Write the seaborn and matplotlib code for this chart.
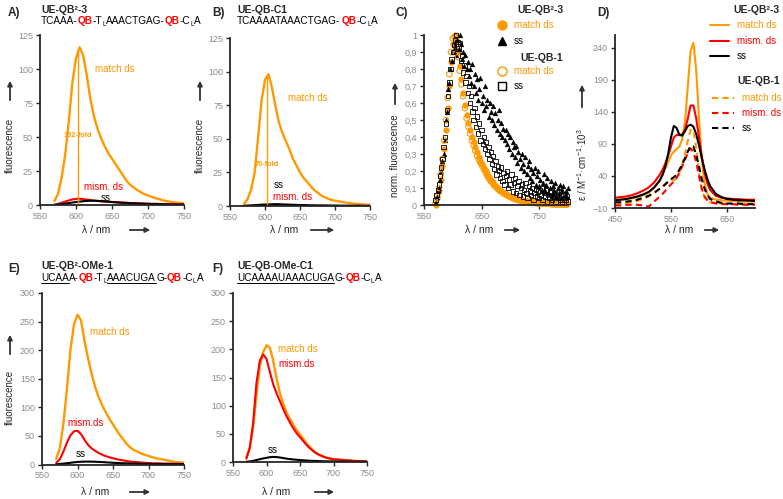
import numpy as np
import seaborn as sns
import matplotlib.pyplot as plt
from matplotlib import font_manager
from matplotlib.ft2font import FT2Font
from matplotlib.lines import Line2D
from matplotlib.patches import FancyArrowPatch

W, H = 783, 499
ORANGE = '#FF9900'
RED = '#FF0000'
GREY = '#8C8C8C'

# ---- data: emission spectra (A, B, E, F) ----
wl = np.arange(570, 751, 5)

a_match = [3, 8, 20, 37, 62, 90, 108, 116, 110, 95, 78, 65, 56, 49, 43, 38, 34, 30, 26, 22,
           18, 15, 13, 11, 9.5, 8, 7, 6, 5, 4.5, 3.5, 3, 2.5, 2, 1.8, 1.5, 1.2]
a_mism = [0.2, 0.8, 1.6, 2.5, 3.4, 4.1, 4.5, 4.6, 4.3, 4.0, 3.6, 3.3, 3.0, 2.8, 2.6, 2.4, 2.2, 2.0,
          1.9, 1.8, 1.7, 1.5, 1.4, 1.3, 1.2, 1.1, 1.0, 0.9, 0.9, 0.8, 0.7, 0.7, 0.6, 0.6, 0.5, 0.5, 0.5]
a_ss = [0.1, 0.3, 0.6, 1.0, 1.4, 1.8, 2.2, 2.5, 2.8, 3.0, 3.1, 3.1, 3.0, 2.8, 2.6, 2.4, 2.2, 2.0,
        1.8, 1.6, 1.5, 1.3, 1.2, 1.1, 1.0, 0.9, 0.8, 0.7, 0.7, 0.6, 0.5, 0.5, 0.4, 0.4, 0.4, 0.3, 0.3]

b_match = [1.5, 5, 12, 24, 50, 78, 94, 98, 88, 74, 62, 54, 48, 42, 35, 30, 25, 21, 18, 15,
           12, 10, 8, 6.5, 5.5, 4.5, 4, 3.5, 3, 2.6, 2.2, 1.9, 1.6, 1.4, 1.2, 1.0, 0.9]
b_mism = [0.1, 0.2, 0.3, 0.3, 0.4, 0.4, 0.5, 0.5, 0.5, 0.5, 0.4, 0.4, 0.4, 0.4, 0.3, 0.3, 0.3, 0.3,
          0.3, 0.2, 0.2, 0.2, 0.2, 0.2, 0.2, 0.2, 0.1, 0.1, 0.1, 0.1, 0.1, 0.1, 0.1, 0.1, 0.1, 0.1, 0.1]
b_ss = [0.1, 0.2, 0.4, 0.6, 0.8, 1.0, 1.1, 1.2, 1.3, 1.4, 1.3, 1.2, 1.1, 1.0, 0.9, 0.8, 0.7, 0.7,
        0.6, 0.5, 0.5, 0.4, 0.4, 0.4, 0.3, 0.3, 0.3, 0.3, 0.2, 0.2, 0.2, 0.2, 0.2, 0.2, 0.1, 0.1, 0.1]

e_match = [10, 28, 70, 130, 200, 245, 262, 252, 215, 185, 158, 135, 117, 103, 91, 80, 70, 60, 51, 43,
           35, 29, 25, 22, 19, 17, 15, 13, 11, 10, 9, 7.5, 6, 5, 4, 3.5, 3]
e_mism = [3, 9, 22, 38, 51, 58, 59, 53, 43, 34, 28, 24, 20, 17, 14.5, 12.5, 11, 9.5, 8, 7,
          6, 5, 4.5, 4, 3.5, 3, 2.5, 2.3, 2.1, 2, 1.8, 1.6, 1.5, 1.3, 1.2, 1.1, 1]
e_ss = [0.5, 1, 1.5, 2.2, 3, 3.8, 4.5, 4.8, 5, 5.1, 5, 4.8, 4.5, 4.2, 3.8, 3.4, 3, 2.7, 2.4, 2.2,
        2, 1.8, 1.6, 1.5, 1.3, 1.2, 1, 0.9, 0.9, 0.8, 0.7, 0.7, 0.6, 0.6, 0.5, 0.5, 0.5]

f_match = [8, 25, 62, 120, 170, 195, 207, 203, 180, 148, 122, 103, 88, 76, 66, 57, 49, 41, 33, 26,
           20, 15, 12, 9.5, 7.5, 6, 5, 4.5, 4, 3.5, 3, 2.5, 2, 1.8, 1.5, 1.2, 1]
f_mism = [6, 25, 68, 140, 180, 191, 183, 160, 138, 122, 108, 94, 81, 70, 60, 51, 44, 37, 30, 24,
          19, 15, 12, 9.5, 7.5, 6, 5, 4.5, 4, 3.5, 3, 2.5, 2, 1.8, 1.5, 1.2, 1]
f_ss = [0.5, 1, 2, 3.5, 5, 6.3, 7.5, 8.5, 9, 8.8, 8, 7, 6, 5.2, 4.5, 4, 3.5, 3, 2.5, 2.2,
        2, 1.8, 1.5, 1.3, 1.2, 1.1, 1, 0.9, 0.8, 0.7, 0.7, 0.6, 0.6, 0.5, 0.5, 0.5, 0.5]

# ---- data: normalised emission (C) ----
c_wl3 = np.arange(570, 799, 3)
c_match_qb2 = [0.00, 0.04, 0.08, 0.15, 0.23, 0.33, 0.44, 0.57, 0.70, 0.84,
               0.95, 1.00, 0.97, 0.90, 0.82, 0.74, 0.66, 0.59, 0.53, 0.48,
               0.44, 0.40, 0.37, 0.34, 0.31, 0.28, 0.26, 0.24, 0.22, 0.20,
               0.18, 0.165, 0.15, 0.135, 0.12, 0.11, 0.10, 0.09, 0.082, 0.075,
               0.068, 0.062, 0.056, 0.051, 0.046, 0.042, 0.038, 0.035, 0.032, 0.029,
               0.027, 0.025, 0.023, 0.021, 0.019, 0.018, 0.016, 0.015, 0.014, 0.013,
               0.012, 0.011, 0.011, 0.010, 0.010, 0.009, 0.009, 0.008, 0.008, 0.007,
               0.007, 0.006, 0.006, 0.005, 0.005, 0.004, 0.004]
c_match_qb1 = [0.01, 0.05, 0.10, 0.18, 0.27, 0.38, 0.50, 0.63, 0.77, 0.90,
               0.98, 0.99, 0.94, 0.87, 0.79, 0.71, 0.64, 0.57, 0.51, 0.46,
               0.42, 0.38, 0.35, 0.32, 0.29, 0.27, 0.25, 0.23, 0.21, 0.19,
               0.17, 0.155, 0.14, 0.13, 0.115, 0.105, 0.095, 0.087, 0.079, 0.072,
               0.065, 0.059, 0.054, 0.049, 0.044, 0.040, 0.037, 0.034, 0.031, 0.028,
               0.026, 0.024, 0.022, 0.020, 0.019, 0.017, 0.016, 0.015, 0.014, 0.013,
               0.012, 0.011, 0.010, 0.010, 0.009, 0.009, 0.008, 0.008, 0.007, 0.007,
               0.006, 0.006, 0.005, 0.005, 0.004, 0.004, 0.003]
c_wl2 = np.arange(570, 801, 2)
c_ss_qb2 = [0.02, 0.05, 0.08, 0.10, 0.15, 0.20, 0.26, 0.30, 0.38, 0.50, 0.55, 0.68, 0.72, 0.80, 0.85,
            0.90, 0.95, 0.93, 0.88, 0.97, 0.92, 1.00, 0.95, 0.86, 0.90, 0.82, 0.88, 0.80, 0.84, 0.76, 0.80,
            0.72, 0.83, 0.70, 0.77, 0.66, 0.74, 0.62, 0.68, 0.75, 0.60, 0.64, 0.56, 0.70, 0.58, 0.62,
            0.52, 0.60, 0.55, 0.50, 0.58, 0.47, 0.54, 0.44, 0.50, 0.56, 0.42, 0.48, 0.40, 0.45, 0.38,
            0.44, 0.36, 0.42, 0.33, 0.40, 0.30, 0.37, 0.34, 0.28, 0.35, 0.25, 0.31, 0.27, 0.22, 0.30,
            0.24, 0.20, 0.28, 0.18, 0.23, 0.26, 0.16, 0.21, 0.14, 0.19, 0.22, 0.12, 0.17, 0.20, 0.11,
            0.15, 0.09, 0.13, 0.18, 0.08, 0.12, 0.16, 0.07, 0.10, 0.14, 0.06, 0.11, 0.08, 0.13, 0.05,
            0.10, 0.07, 0.12, 0.04, 0.09, 0.11, 0.06, 0.08, 0.05, 0.10]
c_ss_qb1 = [0.03, 0.06, 0.09, 0.12, 0.17, 0.22, 0.27, 0.34, 0.40, 0.48, 0.56, 0.64, 0.72, 0.80, 0.86,
            0.90, 0.94, 0.97, 1.00, 0.96, 0.92, 0.95, 0.85, 0.88, 0.78, 0.82, 0.72, 0.76, 0.66, 0.70, 0.60,
            0.64, 0.55, 0.50, 0.57, 0.46, 0.52, 0.42, 0.48, 0.38, 0.44, 0.36, 0.40, 0.33, 0.37, 0.30,
            0.34, 0.27, 0.31, 0.24, 0.29, 0.21, 0.26, 0.18, 0.23, 0.20, 0.16, 0.22, 0.14, 0.19, 0.12,
            0.17, 0.20, 0.10, 0.15, 0.12, 0.18, 0.08, 0.13, 0.16, 0.07, 0.11, 0.14, 0.06, 0.10, 0.12,
            0.05, 0.09, 0.13, 0.07, 0.04, 0.11, 0.08, 0.06, 0.10, 0.03, 0.07, 0.09, 0.05, 0.08, 0.04,
            0.06, 0.10, 0.03, 0.07, 0.05, 0.09, 0.02, 0.06, 0.04, 0.08, 0.03, 0.05, 0.07, 0.02, 0.06,
            0.04, 0.08, 0.03, 0.05, 0.02, 0.06, 0.04, 0.03, 0.05, 0.02]

# ---- data: absorbance (D) ----
d_wl = [450, 460, 470, 480, 490, 500, 510, 520, 530, 535, 540, 545, 550, 555, 560, 565, 570, 575,
        580, 585, 590, 595, 600, 605, 610, 615, 620, 630, 640, 650, 660, 670, 680, 690, 700]
d_match_qb2 = [3, 3, 4, 5, 7, 10, 14, 22, 33, 42, 52, 62, 72, 78, 82, 86, 97, 125,
               180, 235, 248, 205, 130, 65, 28, 12, 6, 3, 2, 1.5, 1, 0.5, 0, 0, 0]
d_mism_qb2 = [6, 7, 8, 10, 13, 17, 22, 30, 42, 50, 60, 72, 86, 100, 104, 104, 105, 112,
              130, 150, 150, 130, 100, 70, 45, 28, 18, 9, 6, 5, 4, 4, 3, 3, 3]
d_ss_qb2 = [2, 3, 4, 6, 8, 11, 15, 22, 33, 42, 55, 75, 100, 118, 115, 104, 103, 110,
            118, 120, 117, 105, 88, 68, 50, 35, 24, 12, 7, 4, 3, 2, 2, 1.5, 1]
d_match_qb1 = [-3, -3, -2, -1, 1, 4, 8, 13, 20, 24, 28, 32, 34, 33, 36, 45, 58, 75,
               95, 112, 112, 85, 45, 18, 6, 1, -1, -2, -3, -3, -4, -4, -4, -4, -4]
d_mism_qb1 = [-6, -6, -5, -5, -5, -6, -8, 0, 8, 12, 17, 22, 27, 31, 37, 45, 55, 65,
              76, 83, 78, 62, 40, 20, 8, 2, -1, -3, -4, -4, -4, -5, -5, -5, -5]
d_ss_qb1 = [-1, -1, 0, 1, 3, 6, 9, 14, 20, 23, 27, 31, 35, 38, 42, 50, 58, 68,
            78, 87, 86, 73, 55, 35, 20, 10, 4, 0, -2, -3, -3, -3, -4, -4, -4]

sns.set_style('ticks')
plt.rcParams['font.family'] = ['Liberation Sans', 'DejaVu Sans']
plt.rcParams['mathtext.default'] = 'regular'

fig = plt.figure(figsize=(7.83, 4.99), dpi=100)


def fx(x):
    return x / W


def fy(y):
    return 1 - y / H


def make_ax(l, t, r, b):
    return fig.add_axes([fx(l), fy(b), (r - l) / W, (b - t) / H])


def style_ax(ax, xlim, xticks, ylim, yticks, ylabels=None):
    ax.set_xlim(xlim)
    ax.set_ylim(ylim)
    ax.set_xticks(xticks)
    ax.set_yticks(yticks)
    if ylabels is not None:
        ax.set_yticklabels(ylabels)
    sns.despine(ax=ax)
    for s in ['left', 'bottom']:
        ax.spines[s].set_linewidth(1.3)
    ax.tick_params(labelsize=6.5, labelcolor=GREY, length=3, width=1, pad=2)
    ax.set_xlabel('')
    ax.set_ylabel('')
    ax.patch.set_alpha(0)


def ftext(x, y, s, **kw):
    kw.setdefault('fontsize', 7)
    return fig.text(fx(x), fy(y), s, **kw)


def arrow(x0, y0, x1, y1):
    fig.add_artist(FancyArrowPatch((fx(x0), fy(y0)), (fx(x1), fy(y1)), transform=fig.transFigure,
                                   arrowstyle='-|>', mutation_scale=7, color='#333333', lw=1.3))


_fonts = {}


def advance(s, size, bold):
    # glyph advance in pixels (dpi 100), so pieces join without gaps
    if bold not in _fonts:
        fp = font_manager.FontProperties(family='Liberation Sans', weight='bold' if bold else 'normal')
        _fonts[bold] = FT2Font(font_manager.findfont(fp), hinting_factor=1)
    f = _fonts[bold]
    f.set_size(size, 100)
    return sum(f.load_char(ord(ch)).linearHoriAdvance for ch in s) / 65536.0


def seq(x, y, parts, size=7.2):
    # parts: (text, colour, bold, underline, subscript)
    for s, c, bold, ul, sub in parts:
        sz = size * 0.68 if sub else size
        yy = y + 2 if sub else y
        fig.text(fx(x), fy(yy), s, color=c, fontsize=sz, va='baseline', ha='left',
                 fontweight='bold' if bold else 'normal')
        w = advance(s, sz, bold)
        if ul:
            fig.add_artist(Line2D([fx(x), fx(x + w)], [fy(y + 2), fy(y + 2)], color='k', lw=0.7,
                                  transform=fig.transFigure))
        x += w


def ylab(x, yc, s, a0, a1):
    ftext(x, yc, s, rotation=90, ha='center', va='center')
    arrow(x, a0, x, a1)


def xlab(xc, y, s, a0, a1):
    ftext(xc, y, s, ha='center', va='center', fontsize=7.5)
    arrow(a0, y, a1, y)


def spectra(ax, match, mism, ss):
    sns.lineplot(x=wl, y=match, ax=ax, color=ORANGE, lw=1.7)
    sns.lineplot(x=wl, y=mism, ax=ax, color=RED, lw=1.5)
    sns.lineplot(x=wl, y=ss, ax=ax, color='black', lw=1.5)


# ---- A ----
ax = make_ax(40, 35, 184, 205)
spectra(ax, a_match, a_mism, a_ss)
ax.plot([603, 603], [0, 114], color=ORANGE, lw=1)
ax.text(603, 51, '132-fold', color=ORANGE, fontsize=5.3, fontweight='bold', ha='center', va='center')
ax.text(654, 100, 'match ds', color=ORANGE, fontsize=7, ha='center', va='center')
ax.text(638, 13, 'mism. ds', color=RED, fontsize=7, ha='center', va='center')
ax.text(641, 5.0, 'ss', color='black', fontsize=7, ha='center', va='center')
style_ax(ax, (550, 750), range(550, 751, 50), (0, 125), range(0, 126, 25))

# ---- B ----
ax = make_ax(230, 38, 370, 206)
spectra(ax, b_match, b_mism, b_ss)
ax.plot([603, 603], [0, 96], color=ORANGE, lw=1)
ax.text(603, 31, '70-fold', color=ORANGE, fontsize=5.3, fontweight='bold', ha='center', va='center')
ax.text(661, 80, 'match ds', color=ORANGE, fontsize=7, ha='center', va='center')
ax.text(619, 15.5, 'ss', color='black', fontsize=7, ha='center', va='center')
ax.text(640, 7, 'mism. ds', color=RED, fontsize=7, ha='center', va='center')
style_ax(ax, (550, 750), range(550, 751, 50), (0, 125), range(0, 126, 25))

# ---- C ----
ax = make_ax(424, 35, 568, 205)
sns.scatterplot(x=c_wl3, y=c_match_qb2, ax=ax, marker='o', s=16, color=ORANGE, edgecolor=ORANGE, linewidth=0.4)
sns.scatterplot(x=c_wl2, y=c_ss_qb2, ax=ax, marker='^', s=12, color='black', edgecolor='black', linewidth=0.3)
sns.scatterplot(x=c_wl3, y=c_match_qb1, ax=ax, marker='o', s=16, color=ORANGE, linewidth=0.8)
ax.collections[-1].set_facecolor('none')
ax.collections[-1].set_edgecolor(ORANGE)
sns.scatterplot(x=c_wl2, y=c_ss_qb1, ax=ax, marker='s', s=10, color='black', linewidth=0.6)
ax.collections[-1].set_facecolor('none')
ax.collections[-1].set_edgecolor('black')
c_ticks = np.arange(0, 1.01, 0.1)
style_ax(ax, (550, 800), [550, 650, 750], (0, 1), c_ticks,
         ['0'] + [('%.1f' % v).replace('.', ',') for v in c_ticks[1:-1]] + ['1'])
for c in ax.collections:
    c.set_clip_on(False)

# ---- D ----
ax = make_ax(615, 35, 755, 208)
sns.lineplot(x=d_wl, y=d_match_qb2, ax=ax, color=ORANGE, lw=1.5)
sns.lineplot(x=d_wl, y=d_mism_qb2, ax=ax, color=RED, lw=1.5)
sns.lineplot(x=d_wl, y=d_ss_qb2, ax=ax, color='black', lw=1.5)
sns.lineplot(x=d_wl, y=d_match_qb1, ax=ax, color=ORANGE, lw=1.5, linestyle=(0, (3, 2)))
sns.lineplot(x=d_wl, y=d_mism_qb1, ax=ax, color=RED, lw=1.5, linestyle=(0, (3, 2)))
sns.lineplot(x=d_wl, y=d_ss_qb1, ax=ax, color='black', lw=1.5, linestyle=(0, (3, 2)))
style_ax(ax, (450, 700), [450, 550, 650], (-10, 260), range(-10, 241, 50))

# ---- E ----
ax = make_ax(42, 293, 184, 464.5)
spectra(ax, e_match, e_mism, e_ss)
ax.text(646, 232, 'match ds', color=ORANGE, fontsize=7, ha='center', va='center')
ax.text(611, 72, 'mism.ds', color=RED, fontsize=7, ha='center', va='center')
ax.text(605, 18, 'ss', color='black', fontsize=7, ha='center', va='center')
style_ax(ax, (550, 750), range(550, 751, 50), (0, 300), range(0, 301, 50))

# ---- F ----
ax = make_ax(233, 293, 367, 462)
spectra(ax, f_match, f_mism, f_ss)
ax.text(617.5, 200, 'match ds', color=ORANGE, fontsize=7, ha='left', va='center')
ax.text(617.5, 174, 'mism.ds', color=RED, fontsize=7, ha='left', va='center')
ax.text(610, 21, 'ss', color='black', fontsize=7, ha='center', va='center')
style_ax(ax, (550, 750), range(550, 751, 50), (0, 300), range(0, 301, 50))

# ---- panel letters, titles, sequences ----
for x, y, s in [(8, 16, 'A)'), (212, 16, 'B)'), (395, 16, 'C)'), (597, 16, 'D)'),
                (8, 272, 'E)'), (212, 272, 'F)')]:
    ftext(x, y, s, fontsize=8.5, fontweight='bold', va='baseline')

for x, y, s in [(41, 13, 'UE-QB²-3'), (237, 13, 'UE-QB-C1'), (41, 269, 'UE-QB²-OMe-1'),
                (237, 269, 'UE-QB-OMe-C1')]:
    ftext(x, y, s, fontsize=7.5, fontweight='bold', va='baseline')

K = 'black'
seq(41, 24, [('TCAAA-', K, False, False, False), ('QB', RED, True, False, False),
             ('-T', K, False, False, False), ('L', K, False, False, True),
             ('AAACTGAG-', K, False, False, False), ('QB', RED, True, False, False),
             ('-C', K, False, False, False), ('L', K, False, False, True), ('A', K, False, False, False)])
seq(237, 24, [('TCAAAATAAACTGAG-', K, False, False, False), ('QB', RED, True, False, False),
              ('-C', K, False, False, False), ('L', K, False, False, True), ('A', K, False, False, False)])
seq(41, 281, [('UCAA', K, False, True, False), ('A-', K, False, False, False),
              ('QB', RED, True, False, False), ('-T', K, False, False, False),
              ('L', K, False, False, True), ('AAACUGA', K, False, True, False),
              ('G-', K, False, False, False), ('QB', RED, True, False, False),
              ('-C', K, False, False, False), ('L', K, False, False, True), ('A', K, False, False, False)])
seq(237, 281, [('UCAAAAUAAACUGA', K, False, True, False), ('G-', K, False, False, False),
               ('QB', RED, True, False, False), ('-C', K, False, False, False),
               ('L', K, False, False, True), ('A', K, False, False, False)])

# ---- axis labels with arrows ----
ylab(10, 145, 'fluorescence', 103, 78)
ylab(200, 145, 'fluorescence', 103, 78)
ylab(395, 156, 'norm. fluorescence', 107, 80)
ylab(582, 165, 'ε / M$^{-1}$·cm$^{-1}$·10$^{3}$', 110, 82)
ylab(10, 397, 'fluorescence', 357, 332)

xlab(96, 230, 'λ / nm', 127, 153)
xlab(284, 230, 'λ / nm', 308, 337)
xlab(479, 230, 'λ / nm', 502, 523)
xlab(679, 230, 'λ / nm', 702, 722)
xlab(95, 492, 'λ / nm', 127, 153)
xlab(276, 492, 'λ / nm', 312, 337)

# ---- legend C ----
ftext(517, 13, 'UE-QB²-3', fontsize=7.5, fontweight='bold', va='baseline')
ftext(520, 61, 'UE-QB-1', fontsize=7.5, fontweight='bold', va='baseline')
for y, mk, fc, ec, lab, col in [(25, 'o', ORANGE, ORANGE, 'match ds', ORANGE),
                                (41, '^', 'black', 'black', 'ss', 'black'),
                                (71, 'o', 'none', ORANGE, 'match ds', ORANGE),
                                (86, 's', 'none', 'black', 'ss', 'black')]:
    fig.add_artist(Line2D([fx(502)], [fy(y)], marker=mk, ms=6.5 if mk == 'o' else 5.5, mfc=fc, mec=ec,
                          mew=1.0, ls='none', transform=fig.transFigure))
    ftext(514, y, lab, color=col, va='center')

# ---- legend D ----
ftext(733, 13, 'UE-QB²-3', fontsize=7.5, fontweight='bold', va='baseline')
ftext(737, 84, 'UE-QB-1', fontsize=7.5, fontweight='bold', va='baseline')
for y, col, ls, lab, x0, x1, xt in [(25, ORANGE, '-', 'match ds', 710, 729, 737),
                                    (41, RED, '-', 'mism. ds', 710, 729, 737),
                                    (56, 'black', '-', 'ss', 710, 729, 737),
                                    (98, ORANGE, (0, (3, 2)), 'match ds', 712, 734, 742),
                                    (113, RED, (0, (3, 2)), 'mism. ds', 712, 734, 742),
                                    (128, 'black', (0, (3, 2)), 'ss', 712, 734, 742)]:
    fig.add_artist(Line2D([fx(x0), fx(x1)], [fy(y), fy(y)], color=col, lw=1.5, ls=ls,
                          transform=fig.transFigure))
    ftext(xt, y, lab, color=col, va='center')

fig.savefig('out.png', dpi=100)
